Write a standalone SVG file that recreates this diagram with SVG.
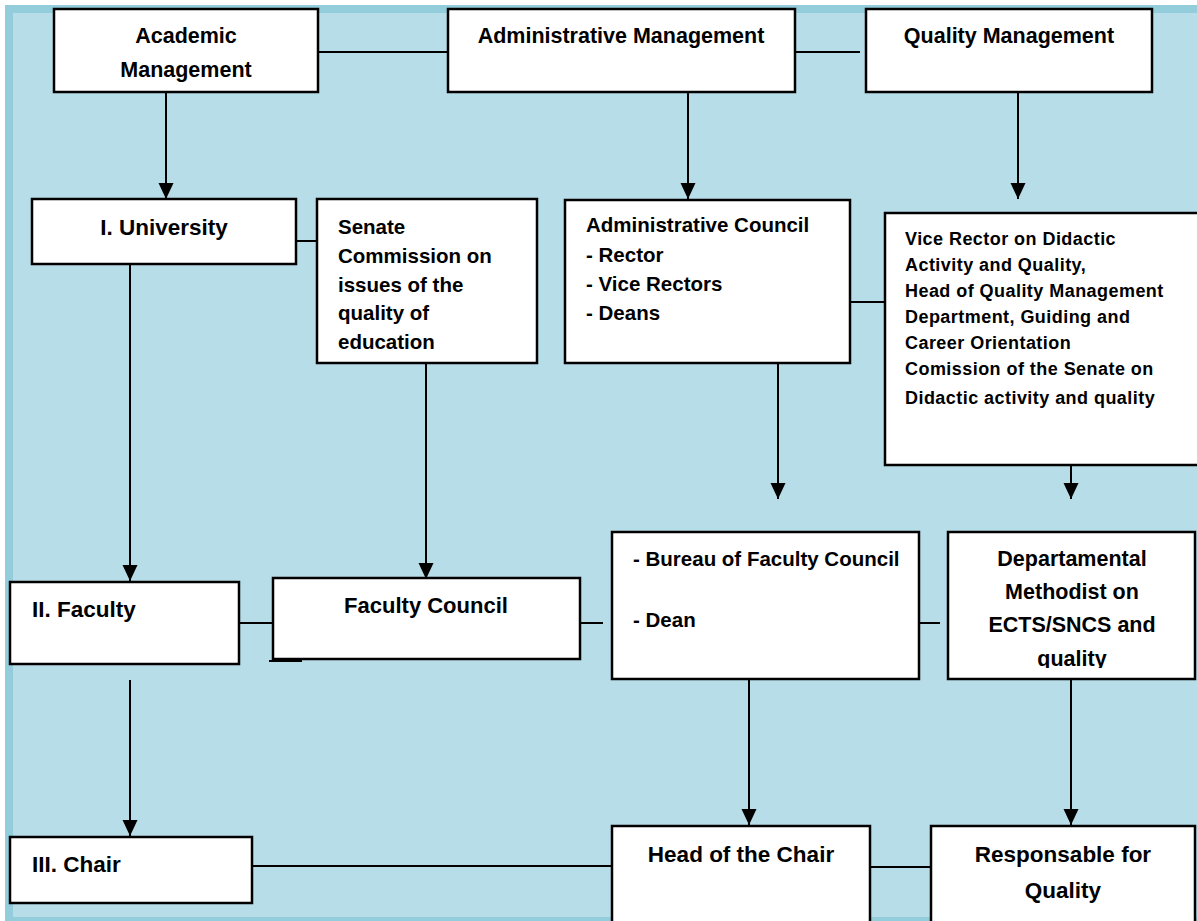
<svg xmlns="http://www.w3.org/2000/svg" width="1197" height="921" viewBox="0 0 1197 921">
<style>
.box{fill:#ffffff;stroke:#000000;stroke-width:2.5}
.ln{stroke:#000000;stroke-width:2;fill:none}
.ar{stroke:#000000;stroke-width:2;fill:none;marker-end:url(#arr)}
text{font-family:"Liberation Sans",Arial,sans-serif;font-weight:bold;fill:#000000}
.top{font-size:21.5px}
.uni{font-size:22.5px}
.mid{font-size:20.5px}
.fc{font-size:22px}
.dep{font-size:21.5px}
.low{font-size:22.5px}
.vr{font-size:18px;letter-spacing:0.45px}
.c{text-anchor:middle}
</style>
<defs>
<marker id="arr" markerUnits="userSpaceOnUse" markerWidth="16" markerHeight="16" refX="16" refY="7.5" orient="auto">
<path d="M0,0 L16,7.5 L0,15 Z" fill="#000000"/>
</marker>
<clipPath id="depclip"><rect x="948" y="532" width="247" height="136"/></clipPath>
</defs>
<rect x="0" y="0" width="1197" height="921" fill="#ffffff"/>
<rect x="5" y="5" width="1192" height="916" fill="#93cddc"/>
<rect x="13" y="13" width="1184" height="904" fill="#b7dde8"/>

<g id="connectors">
<line class="ln" x1="318" y1="52" x2="448" y2="52"/>
<line class="ln" x1="795" y1="52" x2="860" y2="52"/>
<line class="ar" x1="166" y1="92" x2="166" y2="199"/>
<line class="ar" x1="688" y1="92" x2="688" y2="199"/>
<line class="ar" x1="1018" y1="92" x2="1018" y2="199"/>
<line class="ln" x1="296" y1="241" x2="317" y2="241"/>
<line class="ar" x1="130" y1="264" x2="130" y2="581"/>
<line class="ar" x1="426" y1="363" x2="426" y2="579"/>
<line class="ln" x1="850" y1="302" x2="885" y2="302"/>
<line class="ar" x1="778" y1="363" x2="778" y2="499"/>
<line class="ar" x1="1071" y1="446" x2="1071" y2="499"/>
<line class="ln" x1="239" y1="623" x2="273" y2="623"/>
<line class="ln" x1="269" y1="661" x2="302" y2="661"/>
<line class="ln" x1="580" y1="623" x2="603" y2="623"/>
<line class="ln" x1="919" y1="623" x2="940" y2="623"/>
<line class="ar" x1="130" y1="680" x2="130" y2="836"/>
<line class="ar" x1="749" y1="679" x2="749" y2="825"/>
<line class="ar" x1="1071" y1="679" x2="1071" y2="825"/>
<line class="ln" x1="252" y1="866" x2="619" y2="866"/>
<line class="ln" x1="866" y1="867" x2="931" y2="867"/>
</g>

<g id="academic-management">
<rect class="box" x="54" y="9" width="264" height="83"/>
<text class="top c" x="186" y="43">Academic</text>
<text class="top c" x="186" y="77">Management</text>
</g>
<g id="administrative-management">
<rect class="box" x="448" y="9" width="347" height="83"/>
<text class="top c" x="621" y="43">Administrative Management</text>
</g>
<g id="quality-management">
<rect class="box" x="866" y="9" width="286" height="83"/>
<text class="top c" x="1009" y="43">Quality Management</text>
</g>
<g id="university">
<rect class="box" x="32" y="199" width="264" height="65"/>
<text class="uni c" x="164" y="235">I. University</text>
</g>
<g id="senate-commission">
<rect class="box" x="317" y="199" width="220" height="164"/>
<text class="mid" x="338" y="234">Senate</text>
<text class="mid" x="338" y="263">Commission on</text>
<text class="mid" x="338" y="292">issues of the</text>
<text class="mid" x="338" y="320">quality of</text>
<text class="mid" x="338" y="349">education</text>
</g>
<g id="administrative-council">
<rect class="box" x="565" y="200" width="285" height="163"/>
<text class="mid" x="586" y="232">Administrative Council</text>
<text class="mid" x="586" y="262">- Rector</text>
<text class="mid" x="586" y="291">- Vice Rectors</text>
<text class="mid" x="586" y="320">- Deans</text>
</g>
<g id="vice-rector">
<rect class="box" x="885" y="213" width="330" height="252"/>
<text class="vr" x="905" y="245">Vice Rector on Didactic</text>
<text class="vr" x="905" y="271">Activity and Quality,</text>
<text class="vr" x="905" y="297">Head of Quality Management</text>
<text class="vr" x="905" y="323">Department, Guiding and</text>
<text class="vr" x="905" y="349">Career Orientation</text>
<text class="vr" x="905" y="375">Comission of the Senate on</text>
<text class="vr" x="905" y="404">Didactic activity and quality</text>
</g>
<g id="faculty">
<rect class="box" x="10" y="582" width="229" height="82"/>
<text class="low" x="32" y="617">II. Faculty</text>
</g>
<g id="faculty-council">
<rect class="box" x="273" y="578" width="307" height="81"/>
<text class="fc c" x="426" y="613">Faculty Council</text>
</g>
<g id="bureau">
<rect class="box" x="612" y="532" width="307" height="147"/>
<text class="mid" x="633" y="566">- Bureau of Faculty Council</text>
<text class="mid" x="633" y="627">- Dean</text>
</g>
<g id="departamental-methodist">
<rect class="box" x="948" y="532" width="247" height="147"/>
<text class="dep c" x="1072" y="566">Departamental</text>
<text class="dep c" x="1072" y="599">Methodist on</text>
<text class="dep c" x="1072" y="632">ECTS/SNCS and</text>
<text class="dep c" x="1072" y="666" clip-path="url(#depclip)">quality</text>
</g>
<g id="chair">
<rect class="box" x="10" y="837" width="242" height="66"/>
<text class="low" x="32" y="872">III. Chair</text>
</g>
<g id="head-of-chair">
<rect class="box" x="612" y="826" width="258" height="110"/>
<text class="low c" x="741" y="862">Head of the Chair</text>
</g>
<g id="responsable-quality">
<rect class="box" x="931" y="826" width="264" height="110"/>
<text class="low c" x="1063" y="862">Responsable for</text>
<text class="low c" x="1063" y="898">Quality</text>
</g>
</svg>
